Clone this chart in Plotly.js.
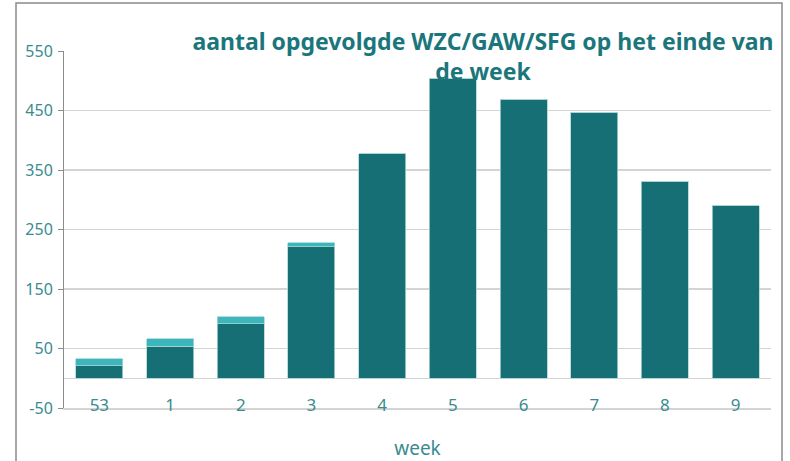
<!DOCTYPE html>
<html><head><meta charset="utf-8">
<script src="https://cdn.plot.ly/plotly-3.0.1.min.js"></script>
<style>html,body{margin:0;padding:0;background:#fff}#chart{width:790px;height:461px}</style>
</head><body><div id="chart"></div>
<script>
const weeks = ["53","1","2","3","4","5","6","7","8","9"];
const darkValues = [21, 54, 92, 221, 377, 504, 469, 447, 331, 290];
const lightValues = [12, 12, 11, 7, 0, 0, 0, 0, 0, 0];
const yTicks = [-50, 50, 150, 250, 350, 450, 550];
const yTickText = ["-50", "50", "150", "250", "350", "450", "550"];

const tealText = "#3a8b91";
const traces = [
  {type:"bar", x:weeks, y:darkValues, marker:{color:"#166f74", line:{color:"#a9d4d6", width:0.8}}, hoverinfo:"skip"},
  {type:"bar", x:weeks, y:lightValues, marker:{color:"#3bb6bd", line:{color:"#a9d4d6", width:0.8}}, hoverinfo:"skip"}
];
const L=64, R=19, T=51, B=53;
const W=790, H=461;
const pw=W-L-R, ph=H-T-B;
const layout = {
  width:W, height:H,
  margin:{l:L, r:R, t:T, b:B, pad:0},
  paper_bgcolor:"#fff", plot_bgcolor:"#fff",
  showlegend:false,
  barmode:"stack", bargap:0.335,
  font:{family:"'Noto Sans', sans-serif", color:tealText},
  title:{text:"aantal opgevolgde WZC/GAW/SFG op het einde van<br>de week", x:483/W, xanchor:"center", y:1-50/H, yanchor:"middle",
    font:{family:"'Noto Sans', sans-serif", size:23, color:"#1b767c", weight:"bold"}},
  xaxis:{type:"category", showgrid:false, zeroline:false, showline:true, linecolor:"#d4d4d4", linewidth:1.5, ticks:"",
    tickfont:{size:17, color:tealText, family:"'Noto Sans', sans-serif"}, ticklabelstandoff:-19,
    title:{text:"week", font:{size:19, color:tealText, family:"'Noto Sans', sans-serif"}, standoff:27}},
  yaxis:{range:[-50,550], tickvals:yTicks, ticktext:yTickText, showgrid:true, gridcolor:"#d4d4d4", gridwidth:1.5,
    zeroline:true, zerolinecolor:"#d4d4d4", zerolinewidth:1.5,
    showline:true, linecolor:"#8c8c8c", linewidth:1, ticks:"outside", ticklen:5, tickcolor:"#8c8c8c",
    tickfont:{size:16, color:tealText, family:"'Noto Sans', sans-serif"}, ticklabelstandoff:2},
  shapes:[{type:"rect", xref:"paper", yref:"paper",
    x0:(16-L)/pw, x1:(782-L)/pw, y0:(H-B-470)/ph, y1:(H-B-3)/ph, line:{color:"#8a8a8a", width:1.5}, fillcolor:"rgba(0,0,0,0)", layer:"below"}]
};
Plotly.newPlot("chart", traces, layout, {displayModeBar:false, staticPlot:true});
</script></body></html>
